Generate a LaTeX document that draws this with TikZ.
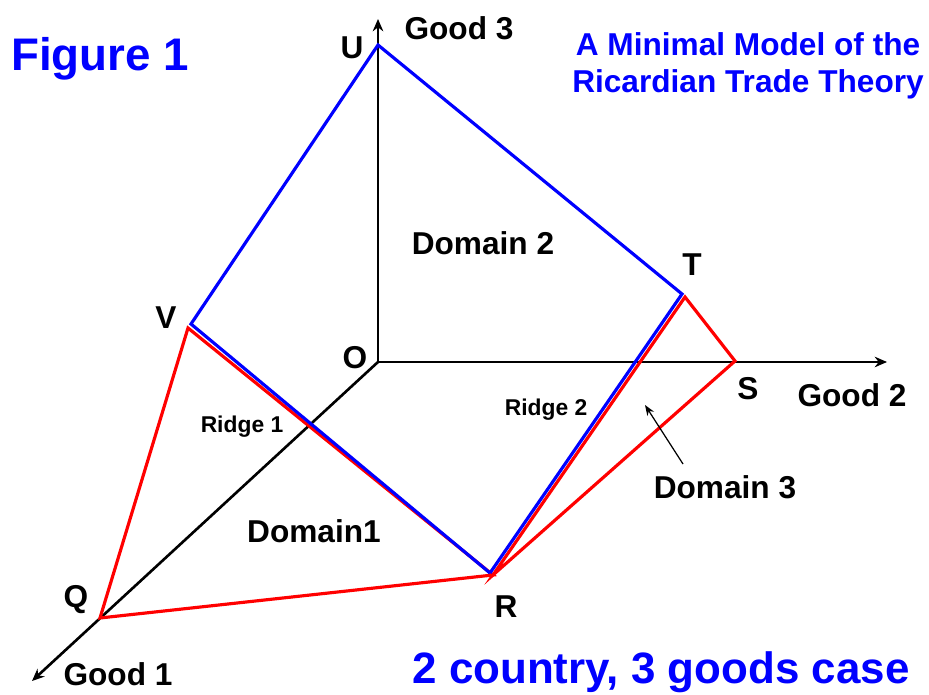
\documentclass[tikz,border=0pt]{standalone}
\usepackage{fontspec}
\setmainfont{Liberation Sans}
\usetikzlibrary{arrows.meta, positioning}
\definecolor{pureBlue}{HTML}{0000FF}
\definecolor{pureRed}{HTML}{FF0000}

\begin{document}
\begin{tikzpicture}[x=0.02cm, y=-0.02cm,
  axis/.style={black, line width=1.5pt, -{Stealth[length=7pt, width=6pt]}},
  blueline/.style={pureBlue, line width=1.8pt},
  redline/.style={pureRed, line width=1.8pt},
  lbl/.style={font=\bfseries\fontsize{18}{21}\selectfont, inner sep=0pt},
  ridge/.style={font=\bfseries\fontsize{13}{15}\selectfont, inner sep=0pt},
  heading/.style={pureBlue, font=\bfseries\fontsize{18}{21}\selectfont, inner sep=0pt, align=center},
]
  % frame of the picture (pixel units, y downwards)
  \useasboundingbox (0,0) rectangle (929,695);

  % --- axes ---
  \coordinate (O)  at (378,362);
  \coordinate (g3) at (378,19);
  \coordinate (g2) at (887,362);
  \coordinate (g1) at (32,681);
  \draw[axis] (O) -- (g3);
  \draw[axis] (O) -- (g2);
  \draw[axis] (O) -- (g1);

  % --- vertices: blue set, red set (red drawn a hair apart on the shared ridges) ---
  \coordinate (U)  at (378,45);
  \coordinate (T)  at (682,294);
  \coordinate (V)  at (191,324);
  \coordinate (R)  at (490,573);
  \coordinate (Tr) at (685,297);
  \coordinate (Vr) at (188,328);
  \coordinate (Rr) at (493,575);
  \coordinate (Q)  at (100,618);
  \coordinate (S)  at (735,361);

  % red simplex
  \draw[redline, line join=miter] (Vr) -- (Q) -- (Rr) -- cycle;
  \draw[redline, line join=miter] (Rr) -- (Tr) -- (S) -- cycle;
  % blue boundary
  \draw[blueline, line join=miter] (R) -- (V) -- (U) -- (T) -- (R);

  % --- vertex labels ---
  \node[lbl] (labU) at (352,48)  {U};
  \node[lbl] (labT) at (692,265) {T};
  \node[lbl] (labV) at (166,318) {V};
  \node[lbl] (labO) at (355,358) {O};
  \node[lbl] (labS) at (748,389) {S};
  \node[lbl] (labQ) at (76,600)  {Q};
  \node[lbl] (labR) at (506,607) {R};

  % --- axis names ---
  \node[lbl] (good3) at (459,28)  {Good 3};
  \node[lbl] (good2) at (852,395) {Good 2};
  \node[lbl] (good1) at (118,674) {Good 1};

  % --- domains and ridges ---
  \node[lbl] (dom2) at (483,243) {Domain 2};
  \node[lbl] (dom1) at (314,531) {Domain1};
  \node[lbl] (dom3) at (725,487) {Domain 3};
  \node[ridge] (ridge1) at (242,427) {Ridge 1};
  \node[ridge] (ridge2) at (546,410) {Ridge 2};
  \coordinate (dom3tail) at (683,464);
  \coordinate (dom3tip)  at (645,405);
  \draw[black, line width=0.7pt, -{Stealth[length=6pt, width=4.5pt]}] (dom3tail) -- (dom3tip);

  % --- headings ---
  \node[heading, font=\bfseries\fontsize{26}{30}\selectfont] (fig) at (100,59) {Figure 1};
  \node[heading] (title) at (748,66) {A Minimal Model of the\\Ricardian Trade Theory};
  \node[heading, font=\bfseries\fontsize{25}{30}\selectfont] (case) at (661,672) {2 country, 3 goods case};
\end{tikzpicture}
\end{document}
